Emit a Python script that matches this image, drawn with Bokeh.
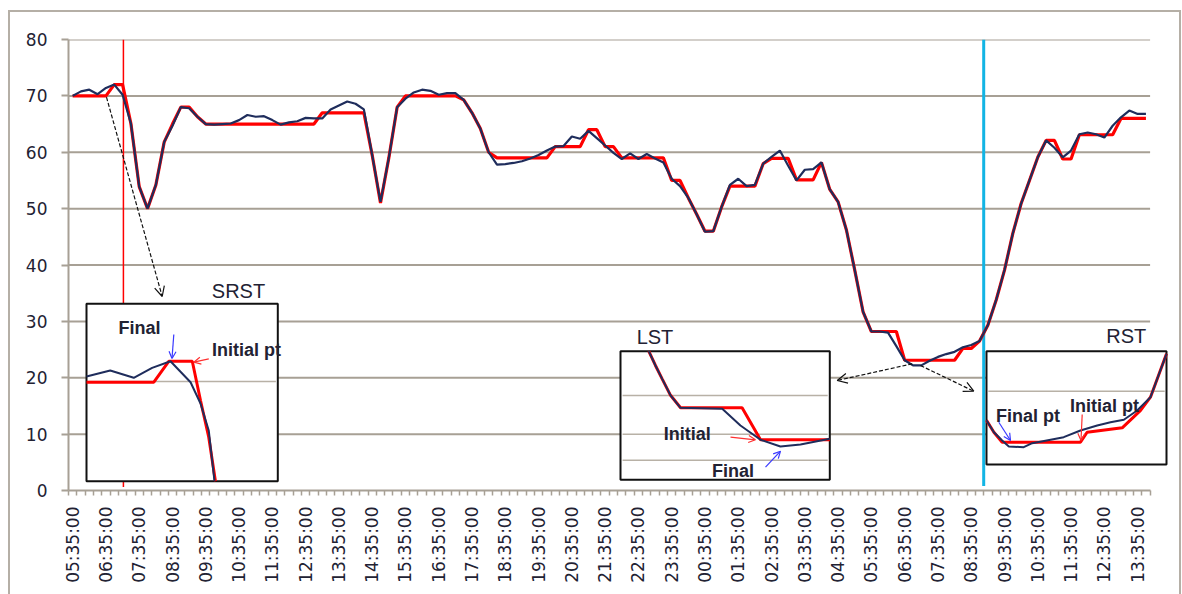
import math
from bokeh.plotting import figure
from bokeh.models import (Range1d, FixedTicker, Label, Arrow, OpenHead)
from bokeh.embed import file_html
from bokeh.resources import INLINE

# ---------------- data (15-minute samples) ----------------
hour_labels = ["05:35:00", "06:35:00", "07:35:00", "08:35:00", "09:35:00", "10:35:00",
               "11:35:00", "12:35:00", "13:35:00", "14:35:00", "15:35:00", "16:35:00",
               "17:35:00", "18:35:00", "19:35:00", "20:35:00", "21:35:00", "22:35:00",
               "23:35:00", "00:35:00", "01:35:00", "02:35:00", "03:35:00", "04:35:00",
               "05:35:00", "06:35:00", "07:35:00", "08:35:00", "09:35:00", "10:35:00",
               "11:35:00", "12:35:00", "13:35:00"]

measured = [70.0, 70.8, 71.1, 70.3, 71.4, 72.0, 70.2, 65.1, 53.9, 50.0,
            54.2, 61.8, 64.7, 68.0, 67.8, 66.3, 65.0, 64.9, 65.0, 65.1,
            65.7, 66.6, 66.3, 66.4, 65.7, 64.9, 65.3, 65.5, 66.1, 66.0,
            66.0, 67.6, 68.3, 69.0, 68.6, 67.6, 59.5, 51.2, 59.0, 68.0,
            69.5, 70.6, 71.1, 70.9, 70.2, 70.5, 70.5, 69.3, 67.0, 64.2,
            60.0, 57.8, 57.9, 58.1, 58.4, 58.9, 59.5, 60.3, 61.0, 61.1,
            62.8, 62.4, 63.8, 62.5, 61.2, 59.9, 58.8, 59.8, 58.8, 59.7,
            58.9, 58.2, 55.3, 54.0, 51.9, 49.0, 45.9, 46.0, 50.3, 54.2,
            55.3, 54.0, 54.2, 58.0, 59.2, 60.3, 57.6, 55.0, 56.9, 57.0,
            58.2, 53.4, 51.2, 46.2, 39.1, 31.7, 28.2, 28.2, 28.0, 25.6,
            23.1, 22.2, 22.2, 23.0, 23.7, 24.2, 24.6, 25.4, 25.8, 26.5,
            29.3, 33.8, 39.1, 45.6, 50.9, 55.0, 59.1, 62.1, 60.8, 59.1,
            60.3, 63.2, 63.5, 63.2, 62.6, 64.7, 66.2, 67.4, 66.8, 66.8]

stepped = [70.0, 70.0, 70.0, 70.0, 70.0, 72.0, 72.0, 65.1, 53.9, 50.0,
           54.2, 61.8, 65.0, 68.0, 68.0, 66.3, 65.0, 65.0, 65.0, 65.0,
           65.0, 65.0, 65.0, 65.0, 65.0, 65.0, 65.0, 65.0, 65.0, 65.0,
           67.0, 67.0, 67.0, 67.0, 67.0, 67.0, 59.5, 51.0, 59.0, 68.0,
           70.0, 70.0, 70.0, 70.0, 70.0, 70.0, 70.0, 69.3, 67.0, 64.2,
           60.0, 59.0, 59.0, 59.0, 59.0, 59.0, 59.0, 59.0, 61.0, 61.0,
           61.0, 61.0, 64.0, 64.0, 61.0, 61.0, 59.0, 59.0, 59.0, 59.0,
           59.0, 59.0, 55.0, 55.0, 51.9, 49.0, 46.0, 46.0, 50.3, 54.0,
           54.0, 54.0, 54.0, 58.0, 58.9, 58.9, 58.9, 55.1, 55.1, 55.1,
           58.2, 53.4, 51.2, 46.2, 39.1, 31.7, 28.2, 28.2, 28.2, 28.2,
           23.1, 23.1, 23.1, 23.1, 23.1, 23.1, 23.1, 25.2, 25.2, 26.5,
           29.3, 33.8, 39.1, 45.6, 50.9, 55.0, 59.1, 62.1, 62.1, 58.8,
           58.8, 63.1, 63.1, 63.1, 63.1, 63.1, 66.0, 66.0, 66.0, 66.0]

y_ticks = [0, 10, 20, 30, 40, 50, 60, 70, 80]
srst_marker = 6.1      # red vertical marker (sample index)
rst_marker = 109.5     # cyan vertical marker (sample index)

# inset curves, in inset-local units (0..100 of each box)
srst_blue_u = [0, 12.4, 24.7, 34.3, 43.9, 54.4, 59.6, 63.9, 66.9]
srst_blue_w = [59.0, 62.4, 58.3, 63.9, 67.6, 55.8, 43.8, 28.6, 0]
srst_red_u = [0, 35.2, 43.0, 55.3, 59.6, 63.9, 67.4]
srst_red_w = [55.8, 55.8, 67.6, 67.6, 45.5, 24.8, 0]
srst_grid_w = [56.2]

lst_blue_u = [13.5, 16.7, 19.9, 23.9, 28.7, 48.6, 57.3, 66.9, 76.4, 86.0, 100]
lst_blue_w = [100, 88.9, 78.5, 65.7, 56.0, 55.2, 42.2, 31.1, 25.9, 27.4, 31.9]
lst_red_u = [13.5, 16.7, 19.9, 23.9, 28.7, 58.1, 66.9, 100]
lst_red_w = [100, 88.9, 78.5, 65.7, 56.0, 56.0, 31.1, 31.1]
lst_grid_w = [65.6, 35.4, 15.2]

rst_blue_u = [0, 4.1, 8.7, 12.4, 20.7, 25.4, 42.9, 52.2, 61.5, 68.9, 76.3, 83.7, 91.1, 100]
rst_blue_w = [39, 28.5, 21.2, 15.9, 15.3, 18.8, 24.1, 30.0, 34.4, 37.3, 39.5, 47.7, 59.4, 97.7]
rst_red_u = [0, 4.1, 8.7, 52.2, 55.9, 75.4, 85.6, 91.1, 100]
rst_red_w = [39, 28.5, 19.7, 19.7, 28.5, 32.4, 47.7, 59.4, 97.7]
rst_grid_w = [64.7]

# ---------------- geometry ----------------
OX, OY = 10, 12          # canvas origin on the page (set by the margins below)
W, H = 1169, 582
FL, FR, FT, FB = 58, 9, 27, 104
PPX = 8.32
FW = W - FL - FR
FH = H - FT - FB
n = len(measured)
idx = list(range(n))
x_end = -0.5 + FW / PPX


def X(px):  # page pixel -> data x
    return (px - OX - FL) / PPX - 0.5


def Y(py):  # page pixel -> data y
    return (OY + FT + FH - py) * 80.0 / FH


AX = "#A7A095"
TXT = "#222233"
NAVY = "#1F2D5C"
RED = "#FF0000"
BORDER = "#B5AFA6"

p = figure(width=W, height=H, x_range=Range1d(-0.5, x_end), y_range=Range1d(0, 80),
           output_backend="svg", toolbar_location=None,
           min_border_left=FL, min_border_right=FR, min_border_top=FT, min_border_bottom=FB)
p.styles = {"margin-left": f"{OX}px", "margin-top": f"{OY}px",
            "outline": f"2px solid {BORDER}"}
p.outline_line_color = None
p.xgrid.visible = False
p.ygrid.visible = False
p.background_fill_color = "white"
p.border_fill_color = "white"

tick_idx = list(range(0, n, 4))
p.xaxis.ticker = FixedTicker(ticks=tick_idx, minor_ticks=[i + 0.5 for i in range(-1, n)])
p.xaxis.major_label_overrides = {t: lab for t, lab in zip(tick_idx, hour_labels)}
p.xaxis.bounds = (-0.5, n - 0.5)
p.xaxis.major_label_orientation = math.pi / 2
p.xaxis.major_tick_out = 0
p.xaxis.major_tick_in = 0
p.xaxis.minor_tick_out = 5
p.xaxis.minor_tick_in = 0
p.xaxis.major_label_standoff = 11

p.yaxis.ticker = FixedTicker(ticks=y_ticks)
p.yaxis.major_tick_out = 7
p.yaxis.major_tick_in = 0
p.yaxis.minor_tick_out = 0
p.yaxis.minor_tick_in = 0
p.yaxis.major_label_standoff = 14

for ax in (p.xaxis, p.yaxis):
    ax.axis_line_color = AX
    ax.axis_line_width = 2
    ax.major_tick_line_color = AX
    ax.major_tick_line_width = 2
    ax.minor_tick_line_color = AX
    ax.minor_tick_line_width = 1.5
    ax.major_label_text_font = "DejaVu Sans"
    ax.major_label_text_font_size = "17px"
    ax.major_label_text_color = TXT

# horizontal gridlines
grid_levels = [t for t in y_ticks if t > 0]
p.segment(x0=-0.5, x1=n - 0.5, y0=grid_levels, y1=grid_levels, line_color=AX, line_width=2)

# vertical markers
p.segment(x0=[srst_marker], x1=[srst_marker], y0=[0.6], y1=[80], line_color=RED, line_width=1.5)
p.segment(x0=[rst_marker], x1=[rst_marker], y0=[0.8], y1=[80], line_color="#12B4E4", line_width=3)

# main series
p.line(idx, stepped, line_color=RED, line_width=3.2)
p.line(idx, measured, line_color=NAVY, line_width=2.2)


def inset(box, grid_w, red_u, red_w, blue_u, blue_w):
    l, t, r, b = box
    p.quad(left=[X(l)], right=[X(r)], top=[Y(t)], bottom=[Y(b)],
           fill_color="white", line_color="#111111", line_width=2)
    sub = p.subplot(x_source=Range1d(0, 100), y_source=Range1d(0, 100),
                    x_target=Range1d(X(l), X(r)), y_target=Range1d(Y(b), Y(t)))
    sub.segment(x0=1, x1=99, y0=grid_w, y1=grid_w, line_color="#B8B1A6", line_width=1.6)
    sub.line(red_u, red_w, line_color=RED, line_width=3)
    sub.line(blue_u, blue_w, line_color=NAVY, line_width=2)


inset((86, 303.3, 277.3, 480.7), srst_grid_w, srst_red_u, srst_red_w, srst_blue_u, srst_blue_w)
inset((620, 350.7, 829.3, 479.3), lst_grid_w, lst_red_u, lst_red_w, lst_blue_u, lst_blue_w)
inset((986, 350.7, 1166, 464), rst_grid_w, rst_red_u, rst_red_w, rst_blue_u, rst_blue_w)


def arrow(x0, y0, x1, y1, color, dash="solid", size=7):
    p.add_layout(Arrow(end=OpenHead(size=size, line_color=color, line_width=1.2),
                       x_start=X(x0), y_start=Y(y0), x_end=X(x1), y_end=Y(y1),
                       line_color=color, line_width=1.2, line_dash=dash))


arrow(106, 96.7, 161.7, 296, "#111111", "4 2", 10)
arrow(911.7, 363.3, 836.7, 380, "#111111", "4 2", 10)
arrow(920, 365, 973.3, 390.7, "#111111", "4 2", 10)
arrow(173.3, 334, 171.5, 358, "#3A3AFF")
arrow(208.3, 358.3, 193.3, 361.7, "#FF3030")
arrow(730, 436.7, 755, 439.3, "#FF3030")
arrow(765, 466.7, 780, 450.7, "#3A3AFF")
arrow(998.3, 421.7, 1010, 440, "#3A3AFF")
arrow(1081.7, 414, 1080.5, 440, "#FF3030")


def label(px, py, text, bold=False, size="18px"):
    p.add_layout(Label(x=X(px), y=Y(py), text=text, text_font="Liberation Sans",
                       text_font_size=size, text_font_style="bold" if bold else "normal",
                       text_color=TXT, text_align="center", text_baseline="middle"))


label(238, 290, "SRST", size="20px")
label(139, 327.5, "Final", True)
label(246, 349.5, "Initial pt", True)
label(654.5, 336.5, "LST", size="20px")
label(686.7, 433, "Initial", True)
label(732.5, 470, "Final", True)
label(1125.7, 335, "RST", size="20px")
label(1027.5, 415, "Final pt", True)
label(1104, 405, "Initial pt", True)

open("out.html", "w").write(file_html(p, INLINE))
